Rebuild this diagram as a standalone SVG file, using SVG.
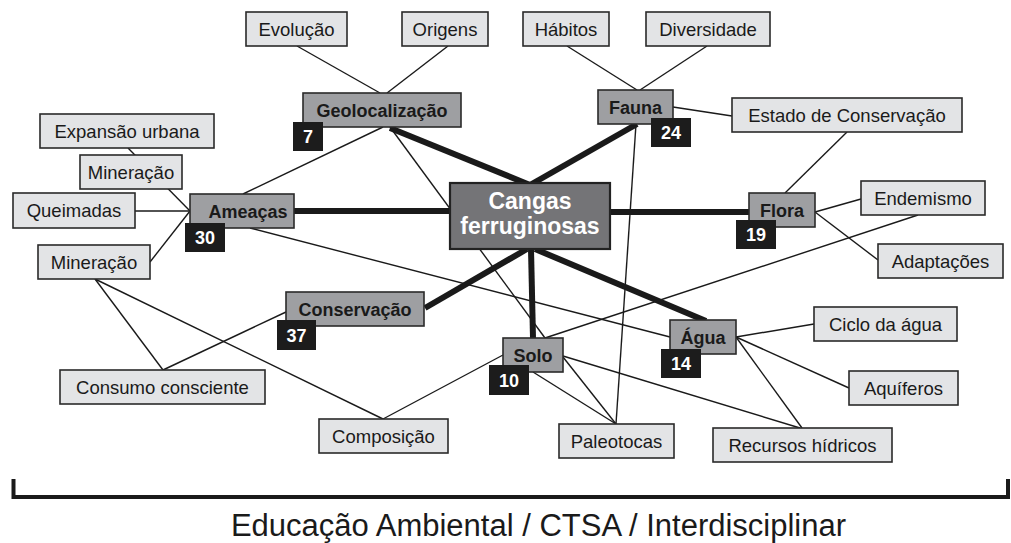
<svg xmlns="http://www.w3.org/2000/svg" width="1011" height="543" viewBox="0 0 1011 543">
<style>
.lt{fill:#e3e4e6;stroke:#2a2a2a;stroke-width:1.6}
.md{fill:#9e9fa2;stroke:#2a2a2a;stroke-width:1.6}
.ct{fill:#747477;stroke:#222;stroke-width:2.2}
.bd{fill:#1c1c1c}
.tl{font-family:"Liberation Sans",Arial,sans-serif;font-size:18.5px;fill:#1a1a1a;text-anchor:middle}
.tb{font-family:"Liberation Sans",Arial,sans-serif;font-size:18px;font-weight:bold;fill:#1a1a1a;text-anchor:middle}
.tn{font-family:"Liberation Sans",Arial,sans-serif;font-size:18px;font-weight:bold;fill:#fff;text-anchor:middle}
.tc{font-family:"Liberation Sans",Arial,sans-serif;font-size:23px;font-weight:bold;fill:#fff;text-anchor:middle}
.thin{stroke:#1a1a1a;stroke-width:1.4;fill:none}
.thick{stroke:#1a1a1a;stroke-width:6;fill:none}
</style>
<rect width="1011" height="543" fill="#fff"/>
<g id="connectors">
<line class="thin" x1="297" y1="46" x2="380" y2="93"/>
<line class="thin" x1="448" y1="46" x2="387" y2="93"/>
<line class="thin" x1="383" y1="127" x2="243" y2="194"/>
<line class="thin" x1="390" y1="127" x2="545" y2="338"/>
<line class="thin" x1="567" y1="46" x2="637" y2="90"/>
<line class="thin" x1="707" y1="46" x2="640" y2="90"/>
<line class="thin" x1="673" y1="107" x2="732" y2="116"/>
<line class="thin" x1="636" y1="124" x2="616" y2="424"/>
<line class="thin" x1="847" y1="132" x2="785" y2="193"/>
<line class="thin" x1="815" y1="212" x2="861" y2="199"/>
<line class="thin" x1="815" y1="212" x2="878" y2="260"/>
<line class="thin" x1="918" y1="215" x2="545" y2="338"/>
<line class="thin" x1="128" y1="148" x2="190" y2="211"/>
<line class="thin" x1="135" y1="211" x2="190" y2="211"/>
<line class="thin" x1="150" y1="262" x2="190" y2="211"/>
<line class="thin" x1="250" y1="228" x2="670" y2="337"/>
<line class="thin" x1="95" y1="279" x2="163" y2="370"/>
<line class="thin" x1="95" y1="279" x2="383" y2="419"/>
<line class="thin" x1="163" y1="370" x2="286" y2="312"/>
<line class="thin" x1="383" y1="419" x2="503" y2="355"/>
<line class="thin" x1="533" y1="372" x2="616" y2="424"/>
<line class="thin" x1="563" y1="357" x2="616" y2="424"/>
<line class="thin" x1="563" y1="356" x2="800" y2="428"/>
<line class="thin" x1="736" y1="337" x2="814" y2="324"/>
<line class="thin" x1="736" y1="337" x2="849" y2="388"/>
<line class="thin" x1="736" y1="337" x2="802" y2="428"/>
<line class="thick" x1="390" y1="128" x2="530" y2="185"/>
<line class="thick" x1="637" y1="124" x2="530" y2="185"/>
<line class="thick" x1="294" y1="211" x2="450" y2="211"/>
<line class="thick" x1="610" y1="212" x2="749" y2="212"/>
<line class="thick" x1="527" y1="249" x2="425" y2="308"/>
<line class="thick" x1="531" y1="249" x2="533" y2="338"/>
<line class="thick" x1="535" y1="249" x2="706" y2="321"/>
</g>
<g id="n-center"><rect class="ct" x="450" y="183" width="160" height="66"/><text class="tc" x="530" y="209">Cangas</text><text class="tc" x="530" y="234">ferruginosas</text></g>
<g id="n-evolucao"><rect class="lt" x="246" y="12" width="101" height="34"/><text class="tl" x="296.5" y="35.5">Evolução</text></g>
<g id="n-origens"><rect class="lt" x="402" y="12" width="86" height="34"/><text class="tl" x="445" y="35.5">Origens</text></g>
<g id="n-habitos"><rect class="lt" x="523" y="12" width="86" height="34"/><text class="tl" x="566" y="35.5">Hábitos</text></g>
<g id="n-diversidade"><rect class="lt" x="646" y="12" width="124" height="34"/><text class="tl" x="708" y="35.5">Diversidade</text></g>
<g id="n-geo"><rect class="md" x="303" y="93" width="158" height="34"/><text class="tb" x="382" y="117">Geolocalização</text><rect class="bd" x="293" y="122" width="30" height="29"/><text class="tn" x="308" y="143">7</text></g>
<g id="n-fauna"><rect class="md" x="598" y="90" width="75" height="34"/><text class="tb" x="635.5" y="114">Fauna</text><rect class="bd" x="651" y="118" width="40" height="29"/><text class="tn" x="671" y="139">24</text></g>
<g id="n-estado"><rect class="lt" x="732" y="98" width="230" height="34"/><text class="tl" x="847" y="121.5">Estado de Conservação</text></g>
<g id="n-expansao"><rect class="lt" x="40" y="114" width="174" height="34"/><text class="tl" x="127" y="137.5">Expansão urbana</text></g>
<g id="n-mineracao1"><rect class="lt" x="80" y="155" width="102" height="34"/><text class="tl" x="131" y="178.5">Mineração</text></g>
<g id="n-queimadas"><rect class="lt" x="13" y="193" width="122" height="35"/><text class="tl" x="74" y="217">Queimadas</text></g>
<g id="n-ameacas"><rect class="md" x="190" y="194" width="104" height="34"/><text class="tb" x="248" y="218">Ameaças</text><rect class="bd" x="185" y="223" width="40" height="29"/><text class="tn" x="205" y="244">30</text></g>
<g id="n-mineracao2"><rect class="lt" x="38" y="245" width="112" height="34"/><text class="tl" x="94" y="268.5">Mineração</text></g>
<g id="n-flora"><rect class="md" x="749" y="193" width="66" height="34"/><text class="tb" x="782" y="217">Flora</text><rect class="bd" x="736" y="220" width="40" height="29"/><text class="tn" x="756" y="241">19</text></g>
<g id="n-endemismo"><rect class="lt" x="861" y="181" width="124" height="34"/><text class="tl" x="923" y="204.5">Endemismo</text></g>
<g id="n-adaptacoes"><rect class="lt" x="878" y="244" width="125" height="34"/><text class="tl" x="940.5" y="267.5">Adaptações</text></g>
<g id="n-conservacao"><rect class="md" x="286" y="292" width="138" height="34"/><text class="tb" x="355" y="316">Conservação</text><rect class="bd" x="277" y="320" width="39" height="30"/><text class="tn" x="296.5" y="342">37</text></g>
<g id="n-consumo"><rect class="lt" x="60" y="370" width="205" height="34"/><text class="tl" x="162.5" y="393.5">Consumo consciente</text></g>
<g id="n-composicao"><rect class="lt" x="319" y="419" width="129" height="34"/><text class="tl" x="383.5" y="442.5">Composição</text></g>
<g id="n-solo"><rect class="md" x="503" y="338" width="60" height="34"/><text class="tb" x="533" y="362">Solo</text><rect class="bd" x="489" y="365" width="40" height="30"/><text class="tn" x="509" y="387">10</text></g>
<g id="n-agua"><rect class="md" x="670" y="320" width="66" height="34"/><text class="tb" x="703" y="344">Água</text><rect class="bd" x="661" y="349" width="40" height="29"/><text class="tn" x="681" y="370">14</text></g>
<g id="n-ciclo"><rect class="lt" x="814" y="307" width="143" height="34"/><text class="tl" x="885.5" y="330.5">Ciclo da água</text></g>
<g id="n-aquiferos"><rect class="lt" x="849" y="371" width="109" height="34"/><text class="tl" x="903.5" y="394.5">Aquíferos</text></g>
<g id="n-paleotocas"><rect class="lt" x="559" y="424" width="115" height="34"/><text class="tl" x="616.5" y="447.5">Paleotocas</text></g>
<g id="n-recursos"><rect class="lt" x="713" y="428" width="179" height="34"/><text class="tl" x="802.5" y="451.5">Recursos hídricos</text></g>
<g id="bracket"><path d="M13.5,479 V497 H1008 V479" fill="none" stroke="#1a1a1a" stroke-width="4"/></g>
<text x="538.5" y="536" font-family="'Liberation Sans',Arial,sans-serif" font-size="31" fill="#1a1a1a" text-anchor="middle">Educação Ambiental / CTSA / Interdisciplinar</text>
</svg>
